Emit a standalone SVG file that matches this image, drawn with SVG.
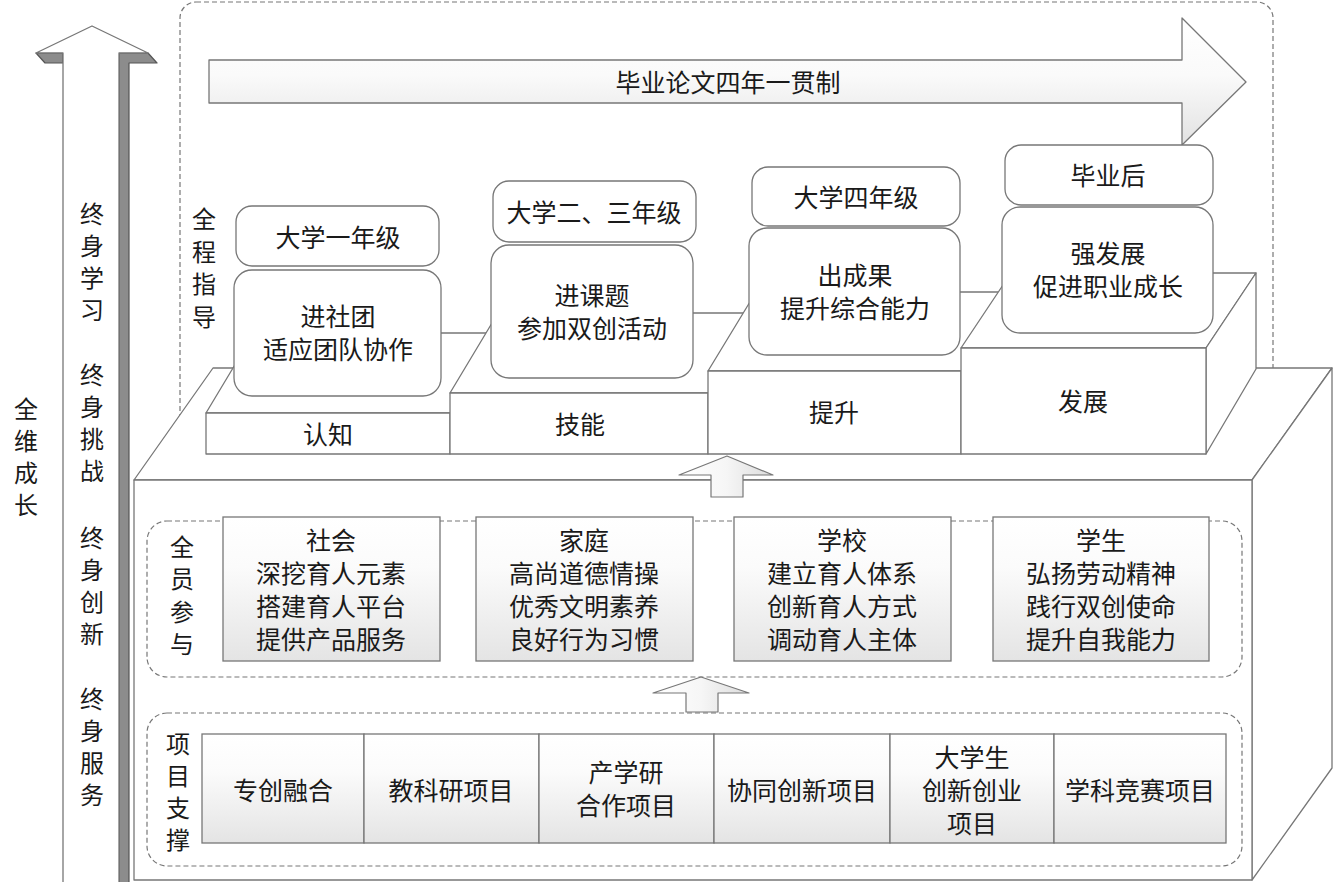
<svg xmlns="http://www.w3.org/2000/svg" width="1341" height="882" viewBox="0 0 1341 882">
<defs>
<linearGradient id="gV" x1="0" y1="0" x2="0" y2="1">
<stop offset="0" stop-color="#ffffff"/>
<stop offset="0.35" stop-color="#fbfbfb"/>
<stop offset="1" stop-color="#e4e4e4"/>
</linearGradient>
<linearGradient id="gArrow" x1="0" y1="0" x2="0" y2="1">
<stop offset="0" stop-color="#ffffff"/>
<stop offset="0.45" stop-color="#fafafa"/>
<stop offset="1" stop-color="#e2e2e2"/>
</linearGradient>
<linearGradient id="gUp" x1="0" y1="0" x2="1" y2="0">
<stop offset="0" stop-color="#ffffff"/>
<stop offset="0.5" stop-color="#f6f6f6"/>
<stop offset="1" stop-color="#dcdcdc"/>
</linearGradient>
<style>
text{font-family:"Noto Sans CJK SC","Noto Sans CJK JP",sans-serif;font-size:25px;fill:#1a1a1a;text-anchor:middle;dominant-baseline:central}
text.v{font-size:24px}
.ln{fill:#ffffff;stroke:#777;stroke-width:1.3;stroke-linejoin:round}
.rr{fill:#ffffff;stroke:#777;stroke-width:1.3}
.dash{fill:none;stroke:#777;stroke-width:1.2;stroke-dasharray:5 3}
.box{fill:url(#gV);stroke:#777;stroke-width:1.3}
.bev{fill:#8c8c8c;stroke:#555;stroke-width:1.2;stroke-linejoin:round}
.up{fill:url(#gUp);stroke:#777;stroke-width:1.2;stroke-linejoin:round}
</style>
</defs>
<rect width="1341" height="882" fill="#ffffff"/>

<g id="lifelong-arrow">
<polygon class="bev" points="36,53 63,53 63,63 45,63"/>
<polygon class="bev" points="119,53 148,53 157,63 129,63 129,884 119,884"/>
<polygon class="ln" points="92,26 148,53 119,53 119,884 63,884 63,53 36,53"/>
<text class="v"><tspan x="92" y="212">终</tspan><tspan x="92" y="244">身</tspan><tspan x="92" y="276">学</tspan><tspan x="92" y="308">习</tspan></text>
<text class="v"><tspan x="92" y="373">终</tspan><tspan x="92" y="405">身</tspan><tspan x="92" y="437">挑</tspan><tspan x="92" y="469">战</tspan></text>
<text class="v"><tspan x="92" y="536">终</tspan><tspan x="92" y="568">身</tspan><tspan x="92" y="600">创</tspan><tspan x="92" y="632">新</tspan></text>
<text class="v"><tspan x="92" y="697">终</tspan><tspan x="92" y="729">身</tspan><tspan x="92" y="761">服</tspan><tspan x="92" y="793">务</tspan></text>
</g>

<g id="label-quanwei">
<text class="v"><tspan x="26" y="407">全</tspan><tspan x="26" y="439">维</tspan><tspan x="26" y="471">成</tspan><tspan x="26" y="503">长</tspan></text>
</g>

<g id="whole-process-frame">
<rect class="dash" x="180" y="2" width="1093" height="470" rx="16"/>
<text class="v"><tspan x="204" y="217">全</tspan><tspan x="204" y="250">程</tspan><tspan x="204" y="282">指</tspan><tspan x="204" y="315">导</tspan></text>
</g>

<g id="thesis-arrow">
<polygon points="209,60 1182,60 1182,18 1246,82 1182,145 1182,103 209,103" fill="url(#gArrow)" stroke="#777" stroke-width="1.3" stroke-linejoin="round"/>
<text x="728" y="81">毕业论文四年一贯制</text>
</g>

<g id="platform">
<polygon class="ln" points="134,480 213,368 1332,368 1252,480"/>
<polygon class="ln" points="1252,480 1332,368 1332,768 1252,880"/>
<rect class="ln" x="134" y="480" width="1118" height="400"/>
</g>

<g id="step-renzhi">
<polygon class="ln" points="206,413 450,413 498,333 254,333"/>
<rect class="ln" x="206" y="413" width="244" height="41"/>
<text x="328" y="433">认知</text>
</g>
<g id="step-jineng">
<polygon class="ln" points="450,393 708,393 756,313 498,313"/>
<rect class="ln" x="450" y="393" width="258" height="61"/>
<text x="580" y="423">技能</text>
</g>
<g id="step-tisheng">
<polygon class="ln" points="708,371 961,371 1009,292 756,292"/>
<rect class="ln" x="708" y="371" width="253" height="83"/>
<text x="834" y="411">提升</text>
</g>
<g id="step-fazhan">
<polygon class="ln" points="961,348 1206,348 1256,273 1011,273"/>
<polygon class="ln" points="1206,348 1256,273 1256,369 1206,454"/>
<rect class="ln" x="961" y="348" width="245" height="106"/>
<text x="1083" y="400">发展</text>
</g>

<g id="year1">
<rect class="rr" x="236" y="206" width="203" height="60" rx="16"/>
<text x="338" y="236">大学一年级</text>
<rect class="rr" x="234" y="270" width="207" height="126" rx="18"/>
<text x="338" y="315">进社团</text>
<text x="338" y="348">适应团队协作</text>
</g>
<g id="year23">
<rect class="rr" x="493" y="181" width="203" height="61" rx="16"/>
<text x="594" y="211">大学二、三年级</text>
<rect class="rr" x="491" y="245" width="202" height="133" rx="18"/>
<text x="592" y="294">进课题</text>
<text x="592" y="327">参加双创活动</text>
</g>
<g id="year4">
<rect class="rr" x="752" y="167" width="208" height="59" rx="16"/>
<text x="856" y="196">大学四年级</text>
<rect class="rr" x="749" y="228" width="211" height="127" rx="18"/>
<text x="855" y="274">出成果</text>
<text x="855" y="307">提升综合能力</text>
</g>
<g id="after-grad">
<rect class="rr" x="1005" y="145" width="208" height="60" rx="16"/>
<text x="1108" y="174">毕业后</text>
<rect class="rr" x="1002" y="207" width="211" height="126" rx="18"/>
<text x="1108" y="252">强发展</text>
<text x="1108" y="285">促进职业成长</text>
</g>

<g id="all-staff">
<rect class="dash" x="147" y="521" width="1095" height="156" rx="20"/>
<text class="v"><tspan x="182" y="545">全</tspan><tspan x="182" y="577">员</tspan><tspan x="182" y="610">参</tspan><tspan x="182" y="642">与</tspan></text>
</g>
<g id="society">
<rect class="box" x="223" y="517" width="217" height="144"/>
<text x="331" y="539">社会</text>
<text x="331" y="572">深挖育人元素</text>
<text x="331" y="605">搭建育人平台</text>
<text x="331" y="638">提供产品服务</text>
</g>
<g id="family">
<rect class="box" x="476" y="517" width="217" height="144"/>
<text x="584" y="539">家庭</text>
<text x="584" y="572">高尚道德情操</text>
<text x="584" y="605">优秀文明素养</text>
<text x="584" y="638">良好行为习惯</text>
</g>
<g id="school">
<rect class="box" x="734" y="517" width="217" height="144"/>
<text x="842" y="539">学校</text>
<text x="842" y="572">建立育人体系</text>
<text x="842" y="605">创新育人方式</text>
<text x="842" y="638">调动育人主体</text>
</g>
<g id="student">
<rect class="box" x="993" y="517" width="216" height="144"/>
<text x="1101" y="539">学生</text>
<text x="1101" y="572">弘扬劳动精神</text>
<text x="1101" y="605">践行双创使命</text>
<text x="1101" y="638">提升自我能力</text>
</g>

<g id="project-support">
<rect class="dash" x="147" y="713" width="1095" height="153" rx="20"/>
<text class="v"><tspan x="178" y="742">项</tspan><tspan x="178" y="774">目</tspan><tspan x="178" y="806">支</tspan><tspan x="178" y="838">撑</tspan></text>
</g>
<g id="p1"><rect class="box" x="202" y="734" width="162" height="109"/><text x="283" y="789">专创融合</text></g>
<g id="p2"><rect class="box" x="364" y="734" width="175" height="109"/><text x="451" y="789">教科研项目</text></g>
<g id="p3"><rect class="box" x="539" y="734" width="175" height="109"/><text x="626" y="771">产学研</text><text x="626" y="804">合作项目</text></g>
<g id="p4"><rect class="box" x="714" y="734" width="176" height="109"/><text x="802" y="789">协同创新项目</text></g>
<g id="p5"><rect class="box" x="890" y="734" width="164" height="109"/><text x="972" y="756">大学生</text><text x="972" y="789">创新创业</text><text x="972" y="822">项目</text></g>
<g id="p6"><rect class="box" x="1054" y="734" width="172" height="109"/><text x="1140" y="789">学科竞赛项目</text></g>

<g id="connectors">
<polygon class="up" points="727,456 773,475 743,475 743,497 711,497 711,475 679,475"/>
<polygon class="up" points="701,677 749,693 718,693 718,712 686,712 686,693 653,693"/>
</g>
</svg>
